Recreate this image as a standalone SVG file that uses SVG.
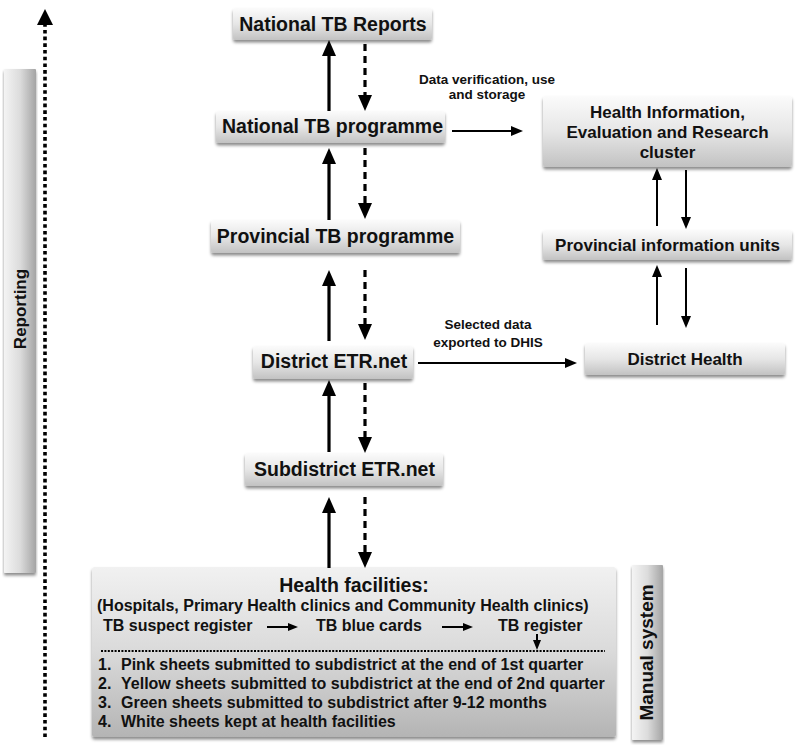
<svg xmlns="http://www.w3.org/2000/svg" width="800" height="745" viewBox="0 0 800 745">
<defs>
<linearGradient id="gBox" x1="0" y1="0" x2="0" y2="1">
<stop offset="0" stop-color="#fbfbfb"/><stop offset="0.5" stop-color="#e6e6e6"/><stop offset="1" stop-color="#c2c2c2"/>
</linearGradient>
<linearGradient id="gBig" x1="0" y1="0" x2="0" y2="1">
<stop offset="0" stop-color="#f1f1f1"/><stop offset="0.5" stop-color="#dadada"/><stop offset="1" stop-color="#b4b4b4"/>
</linearGradient>
<linearGradient id="gBar" x1="0" y1="0" x2="1" y2="0">
<stop offset="0" stop-color="#f4f4f4"/><stop offset="0.5" stop-color="#dcdcdc"/><stop offset="1" stop-color="#a4a4a4"/>
</linearGradient>
<filter id="sh" x="-5%" y="-20%" width="110%" height="150%">
<feDropShadow dx="0" dy="2.5" stdDeviation="1.5" flood-color="#000" flood-opacity="0.45"/>
</filter>
<marker id="aBig" markerUnits="userSpaceOnUse" markerWidth="16" markerHeight="14" refX="4" refY="7" orient="auto">
<path d="M0,0 L16,7 L0,14 z" fill="#000"/>
</marker>
<marker id="aMid" markerUnits="userSpaceOnUse" markerWidth="12" markerHeight="10" refX="3" refY="5" orient="auto">
<path d="M0,0 L12,5 L0,10 z" fill="#000"/>
</marker>
<marker id="aSm" markerUnits="userSpaceOnUse" markerWidth="10" markerHeight="8" refX="3" refY="4" orient="auto">
<path d="M0,0 L10,4 L0,8 z" fill="#000"/>
</marker>
<marker id="aDot" markerUnits="userSpaceOnUse" markerWidth="16" markerHeight="16" refX="3" refY="8" orient="auto">
<path d="M0,0 L16,8 L0,16 z" fill="#000"/>
</marker>
</defs>
<style>
.box{fill:url(#gBox);filter:url(#sh);}
.big{fill:url(#gBig);filter:url(#sh);}
.bar{fill:url(#gBar);filter:url(#sh);}
text{font-family:"Liberation Sans",Arial,Helvetica,sans-serif;font-weight:bold;fill:#111;}
.t19{font-size:19.5px;text-anchor:middle;}
.t17{font-size:17px;text-anchor:middle;}
.t16{font-size:16px;}
.lab{font-size:13.5px;text-anchor:middle;}
.solid{stroke:#000;stroke-width:3.2;fill:none;marker-end:url(#aBig);}
.dash{stroke:#000;stroke-width:3.2;fill:none;stroke-dasharray:7 5;marker-end:url(#aBig);}
.thin{stroke:#000;stroke-width:2;fill:none;marker-end:url(#aMid);}
.tiny{stroke:#000;stroke-width:2;fill:none;marker-end:url(#aSm);}
</style>

<g id="reporting">
<rect class="bar" x="4" y="69" width="32" height="504" rx="1"/>
<text transform="translate(26,309) rotate(-90)" style="font-size:17px;text-anchor:middle">Reporting</text>
</g>

<g id="national-tb-reports">
<rect class="box" x="233" y="8" width="199" height="32" rx="3"/>
<text class="t19" x="333" y="31">National TB Reports</text>
</g>

<g id="national-tb-programme">
<rect class="box" x="216" y="111" width="229" height="32" rx="3"/>
<text class="t19" x="332.5" y="133">National TB programme</text>
</g>

<g id="provincial-tb-programme">
<rect class="box" x="211" y="220" width="249" height="33" rx="3"/>
<text class="t19" x="335.5" y="243">Provincial TB programme</text>
</g>

<g id="district-etr">
<rect class="box" x="253" y="346" width="160" height="33" rx="3"/>
<text class="t19" x="334" y="368">District ETR.net</text>
</g>

<g id="subdistrict-etr">
<rect class="box" x="245" y="453" width="198" height="33" rx="3"/>
<text class="t19" x="344.5" y="476">Subdistrict ETR.net</text>
</g>

<g id="health-information">
<rect class="box" x="543" y="96" width="249" height="71" rx="3"/>
<text class="t17" x="667.5" y="118">Health Information,</text>
<text class="t17" x="667.5" y="138">Evaluation and Research</text>
<text class="t17" x="667.5" y="158">cluster</text>
</g>

<g id="provincial-information-units">
<rect class="box" x="543" y="230" width="249" height="30" rx="3"/>
<text class="t17" x="667.5" y="251">Provincial information units</text>
</g>

<g id="district-health">
<rect class="box" x="585" y="343" width="200" height="32" rx="3"/>
<text class="t17" x="685" y="365">District Health</text>
</g>

<g id="health-facilities">
<rect class="big" x="92" y="567" width="524" height="170" rx="3"/>
<text x="354" y="592" style="font-size:19.5px;text-anchor:middle">Health facilities:</text>
<text class="t16" x="97" y="611">(Hospitals, Primary Health clinics and Community Health clinics)</text>
<text class="t16" x="103" y="631">TB suspect register</text>
<text class="t16" x="316" y="631">TB blue cards</text>
<text class="t16" x="498" y="631">TB register</text>
<path class="tiny" d="M267,627 H291"/>
<path class="tiny" d="M442,627 H466"/>
<path class="tiny" d="M537,634 V643"/>
<line x1="101" y1="651" x2="605" y2="651" stroke="#000" stroke-width="2" stroke-dasharray="2 1.4"/>
<text class="t16" y="670"><tspan x="98">1.</tspan><tspan x="121">Pink sheets submitted to subdistrict at the end of 1st quarter</tspan></text>
<text class="t16" y="689"><tspan x="98">2.</tspan><tspan x="121">Yellow sheets submitted to subdistrict at the end of 2nd quarter</tspan></text>
<text class="t16" y="708"><tspan x="98">3.</tspan><tspan x="121">Green sheets submitted to subdistrict after 9-12 months</tspan></text>
<text class="t16" y="727"><tspan x="98">4.</tspan><tspan x="121">White sheets kept at health facilities</tspan></text>
</g>

<g id="manual-system">
<rect class="bar" x="632" y="565" width="31" height="175" rx="1"/>
<text transform="translate(653,652.5) rotate(-90)" style="font-size:19px;text-anchor:middle">Manual system</text>
</g>

<g id="connectors">
<path d="M45,737 V22" stroke="#000" stroke-width="3.6" stroke-dasharray="3.6 3.1" fill="none" marker-end="url(#aDot)"/>
<path class="solid" d="M329,111 V52"/>
<path class="solid" d="M329,220 V160"/>
<path class="solid" d="M329,341 V282"/>
<path class="solid" d="M329,452 V392"/>
<path class="solid" d="M329,568 V509"/>
<path class="dash" d="M365,44 V99"/>
<path class="dash" d="M365,148 V207"/>
<path class="dash" d="M365,270 V328"/>
<path class="dash" d="M365,383 V441"/>
<path class="dash" d="M365,497 V556"/>
<path class="thin" d="M452,131 H514"/>
<path class="thin" d="M418,363 H568"/>
<path class="thin" d="M657,226 V177"/>
<path class="thin" d="M686,170 V220"/>
<path class="thin" d="M657,325 V274"/>
<path class="thin" d="M686,268 V319"/>
<text class="lab" x="487" y="84">Data verification, use</text>
<text class="lab" x="487" y="99">and storage</text>
<text class="lab" x="488" y="329">Selected data</text>
<text class="lab" x="488" y="347">exported to DHIS</text>
</g>
</svg>
